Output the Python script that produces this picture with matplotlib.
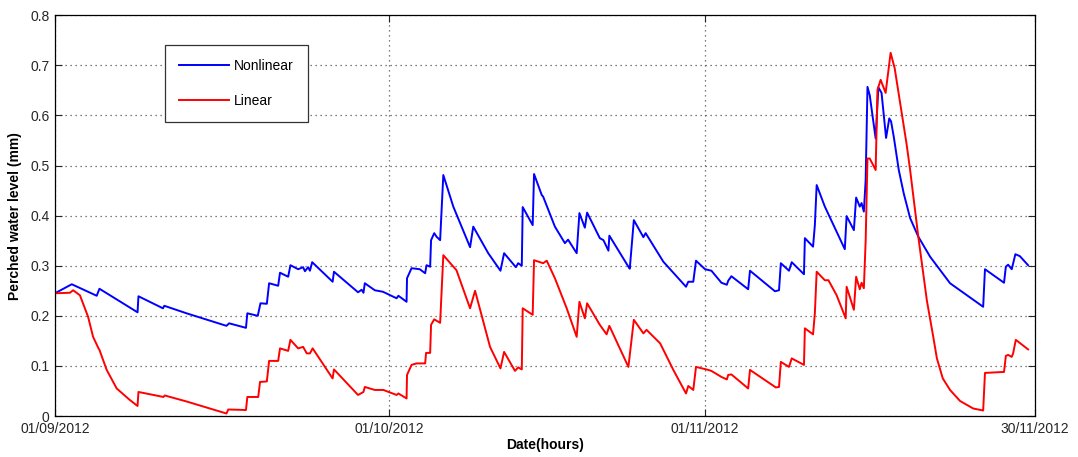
import matplotlib
matplotlib.use("Agg")
import matplotlib.pyplot as plt
from matplotlib.ticker import FuncFormatter

plt.rcParams['font.family'] = ['Liberation Sans', 'DejaVu Sans']

# x = hours since 01/09/2012
nl_hours = [0, 37, 92, 98, 182, 184, 238, 241, 290, 378, 384, 421, 424, 447, 453,
            467, 472, 492, 496, 514, 519, 536, 547, 551, 558, 562, 567, 612, 615,
            668, 676, 680, 683, 705, 723, 753, 757, 775, 776, 786, 804, 816, 819,
            827, 829, 836, 841, 849, 856, 878, 915, 922, 955, 982, 990, 1016, 1021,
            1029, 1031, 1053, 1056, 1073, 1076, 1102, 1124, 1131, 1150, 1156, 1168,
            1173, 1201, 1209, 1220, 1222, 1264, 1267, 1276, 1297, 1302, 1341, 1391,
            1396, 1407, 1413, 1433, 1447, 1469, 1481, 1484, 1491, 1528, 1532, 1587,
            1596, 1600, 1618, 1624, 1651, 1653, 1671, 1675, 1679, 1697, 1741, 1745,
            1761, 1766, 1774, 1778, 1783, 1787, 1791, 1796, 1809, 1815, 1822, 1832,
            1839, 1843, 1849, 1860, 1871, 1885, 1903, 1929, 1973, 2046, 2050, 2092,
            2096, 2101, 2109, 2117, 2127, 2145]
nl_level = [0.245, 0.263, 0.240, 0.254, 0.207, 0.239, 0.215, 0.220, 0.205, 0.180,
            0.185, 0.176, 0.205, 0.200, 0.225, 0.224, 0.265, 0.260, 0.286, 0.278,
            0.301, 0.293, 0.297, 0.289, 0.297, 0.290, 0.307, 0.268, 0.288, 0.247,
            0.252, 0.246, 0.265, 0.251, 0.248, 0.235, 0.240, 0.228, 0.275, 0.295,
            0.293, 0.285, 0.301, 0.298, 0.351, 0.365, 0.358, 0.351, 0.481, 0.418,
            0.337, 0.378, 0.325, 0.290, 0.325, 0.297, 0.305, 0.300, 0.417, 0.381,
            0.483, 0.441, 0.438, 0.378, 0.345, 0.352, 0.325, 0.405, 0.376, 0.406,
            0.355, 0.351, 0.330, 0.360, 0.298, 0.294, 0.391, 0.357, 0.365, 0.308,
            0.258, 0.268, 0.268, 0.310, 0.293, 0.290, 0.266, 0.262, 0.270, 0.279,
            0.253, 0.290, 0.249, 0.251, 0.305, 0.290, 0.307, 0.283, 0.355, 0.338,
            0.381, 0.461, 0.418, 0.333, 0.399, 0.371, 0.436, 0.418, 0.425, 0.408,
            0.471, 0.657, 0.640, 0.554, 0.656, 0.645, 0.555, 0.594, 0.588, 0.557,
            0.491, 0.444, 0.395, 0.358, 0.318, 0.265, 0.218, 0.293, 0.266, 0.298,
            0.302, 0.293, 0.323, 0.319, 0.301]

lin_hours = [0, 33, 40, 55, 73, 84, 96, 98, 114, 136, 165, 182, 184, 239, 242, 290,
             378, 382, 421, 424, 448, 452, 467, 472, 492, 496, 514, 519, 536, 547,
             555, 562, 568, 612, 615, 668, 680, 683, 705, 724, 753, 757, 775, 776,
             786, 797, 816, 818, 827, 829, 836, 849, 856, 885, 915, 926, 959, 982,
             990, 1014, 1021, 1029, 1031, 1053, 1056, 1076, 1084, 1102, 1128, 1150,
             1156, 1168, 1173, 1201, 1216, 1222, 1264, 1276, 1297, 1304, 1334, 1363,
             1391, 1396, 1407, 1413, 1440, 1447, 1469, 1481, 1484, 1491, 1528, 1532,
             1589, 1596, 1600, 1618, 1624, 1651, 1653, 1671, 1675, 1679, 1697, 1705,
             1723, 1743, 1745, 1761, 1766, 1774, 1778, 1783, 1787, 1791, 1796, 1809,
             1813, 1820, 1831, 1842, 1851, 1862, 1877, 1885, 1903, 1922, 1936, 1944,
             1957, 1973, 1995, 2024, 2046, 2050, 2092, 2096, 2101, 2109, 2112, 2118,
             2145]
lin_level = [0.245, 0.246, 0.251, 0.241, 0.198, 0.158, 0.135, 0.132, 0.092, 0.055,
             0.032, 0.020, 0.048, 0.038, 0.041, 0.029, 0.005, 0.013, 0.012, 0.038,
             0.038, 0.068, 0.069, 0.110, 0.110, 0.135, 0.130, 0.152, 0.135, 0.138,
             0.125, 0.125, 0.135, 0.075, 0.093, 0.042, 0.048, 0.058, 0.052, 0.052,
             0.042, 0.045, 0.035, 0.082, 0.102, 0.105, 0.105, 0.126, 0.126, 0.182,
             0.193, 0.186, 0.321, 0.291, 0.215, 0.250, 0.138, 0.095, 0.128, 0.090,
             0.097, 0.093, 0.215, 0.202, 0.311, 0.305, 0.310, 0.275, 0.215, 0.158,
             0.228, 0.195, 0.225, 0.182, 0.163, 0.180, 0.098, 0.192, 0.165, 0.172,
             0.145, 0.092, 0.045, 0.060, 0.052, 0.098, 0.092, 0.090, 0.078, 0.073,
             0.082, 0.083, 0.055, 0.092, 0.057, 0.058, 0.108, 0.098, 0.115, 0.102,
             0.175, 0.163, 0.205, 0.288, 0.271, 0.271, 0.241, 0.195, 0.258, 0.212,
             0.278, 0.253, 0.266, 0.255, 0.350, 0.514, 0.514, 0.491, 0.651, 0.671,
             0.645, 0.725, 0.694, 0.630, 0.544, 0.491, 0.358, 0.230, 0.158, 0.115,
             0.075, 0.052, 0.030, 0.015, 0.011, 0.086, 0.088, 0.120, 0.122, 0.118,
             0.125, 0.152, 0.133]

tick_hours = [0, 736, 1433, 2160]
tick_labels = ['01/09/2012', '01/10/2012', '01/11/2012', '30/11/2012']
y_ticks = [0, 0.1, 0.2, 0.3, 0.4, 0.5, 0.6, 0.7, 0.8]

fig = plt.figure(figsize=(10.78, 4.57), dpi=100)
ax = fig.add_axes([0.051, 0.0897, 0.909, 0.877])

ax.plot(nl_hours, nl_level, color='#0000ff', linewidth=1.4, label='Nonlinear')
ax.plot(lin_hours, lin_level, color='#ff0000', linewidth=1.4, label='Linear')

ax.set_xlim(0, 2160)
ax.set_ylim(0, 0.8)
ax.set_xticks(tick_hours)
ax.set_xticklabels(tick_labels)
ax.set_yticks(y_ticks)
ax.yaxis.set_major_formatter(FuncFormatter(lambda v, p: '0' if v == 0 else '%g' % v))
ax.tick_params(direction='in', length=5, top=True, right=True, labelsize=10,
               colors='#262626', pad=4)
ax.grid(True, linestyle=(0, (1, 3)), color='#555555', linewidth=0.9)
for s in ax.spines.values():
    s.set_linewidth(0.9)
    s.set_color('black')

ax.set_xlabel('Date(hours)', fontsize=10, fontweight='bold', labelpad=2)
ax.set_ylabel('Perched water level (mm)', fontsize=10, fontweight='bold', labelpad=6)

leg = ax.legend(loc='upper left', bbox_to_anchor=(0.112, 0.925), borderaxespad=0,
                fontsize=10, handlelength=3.6, handletextpad=0.4, labelspacing=1.5,
                borderpad=1.0, fancybox=False, framealpha=1, edgecolor='#333333')
leg.get_frame().set_linewidth(0.9)

fig.savefig('out.png', dpi=100)
